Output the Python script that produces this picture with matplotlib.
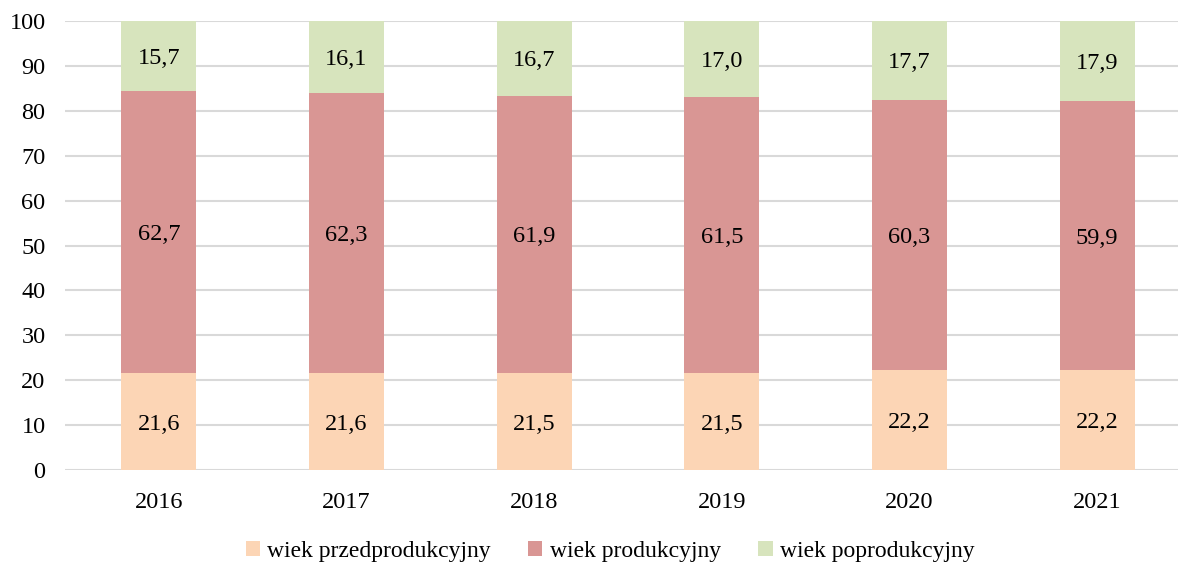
import matplotlib
matplotlib.use("Agg")
import matplotlib.pyplot as plt
import numpy as np

years = ["2016", "2017", "2018", "2019", "2020", "2021"]
przed = [21.6, 21.6, 21.5, 21.5, 22.2, 22.2]
prod = [62.7, 62.3, 61.9, 61.5, 60.3, 59.9]
popr = [15.7, 16.1, 16.7, 17.0, 17.7, 17.9]
series_names = ["wiek przedprodukcyjny", "wiek produkcyjny", "wiek poprodukcyjny"]
colors = ["#FCD5B5", "#D99694", "#D7E4BD"]

plt.rcParams["font.family"] = ["Liberation Serif", "DejaVu Serif"]

fig = plt.figure(figsize=(11.78, 5.62), dpi=100)
ax = fig.add_axes([65/1178, 92/562, 1126/1178, 449/562])

x = np.arange(len(years))
bottom = np.zeros(len(years))
for vals, name, col in zip([przed, prod, popr], series_names, colors):
    vals = np.array(vals)
    ax.bar(x, vals, 0.4, bottom=bottom, color=col, label=name, zorder=2)
    for xi, b, v in zip(x, bottom, vals):
        ax.text(xi, b + v/2, f"{v:.1f}".replace(".", ","), ha="center",
                va="center_baseline", fontsize=17.5, zorder=3)
    bottom += vals

ax.set_xlim(-0.5, 5.5)
ax.set_ylim(0, 100)
ax.set_yticks(range(0, 101, 10))
ax.set_xticks(x)
ax.set_xticklabels(years)
ax.tick_params(length=0, labelsize=17.5)
ax.tick_params(axis="y", pad=14)
ax.tick_params(axis="x", pad=16)
ax.yaxis.grid(True, color="#D9D9D9", linewidth=1.5, zorder=0)
ax.set_axisbelow(True)
for s in ax.spines.values():
    s.set_visible(False)

fig.legend(loc="center", bbox_to_anchor=(610/1178, 1 - 551/562), ncol=3, frameon=False,
           fontsize=17, handlelength=0.6, handleheight=0.6, handletextpad=0.3,
           columnspacing=1.6)

fig.savefig("out.png", dpi=100)
